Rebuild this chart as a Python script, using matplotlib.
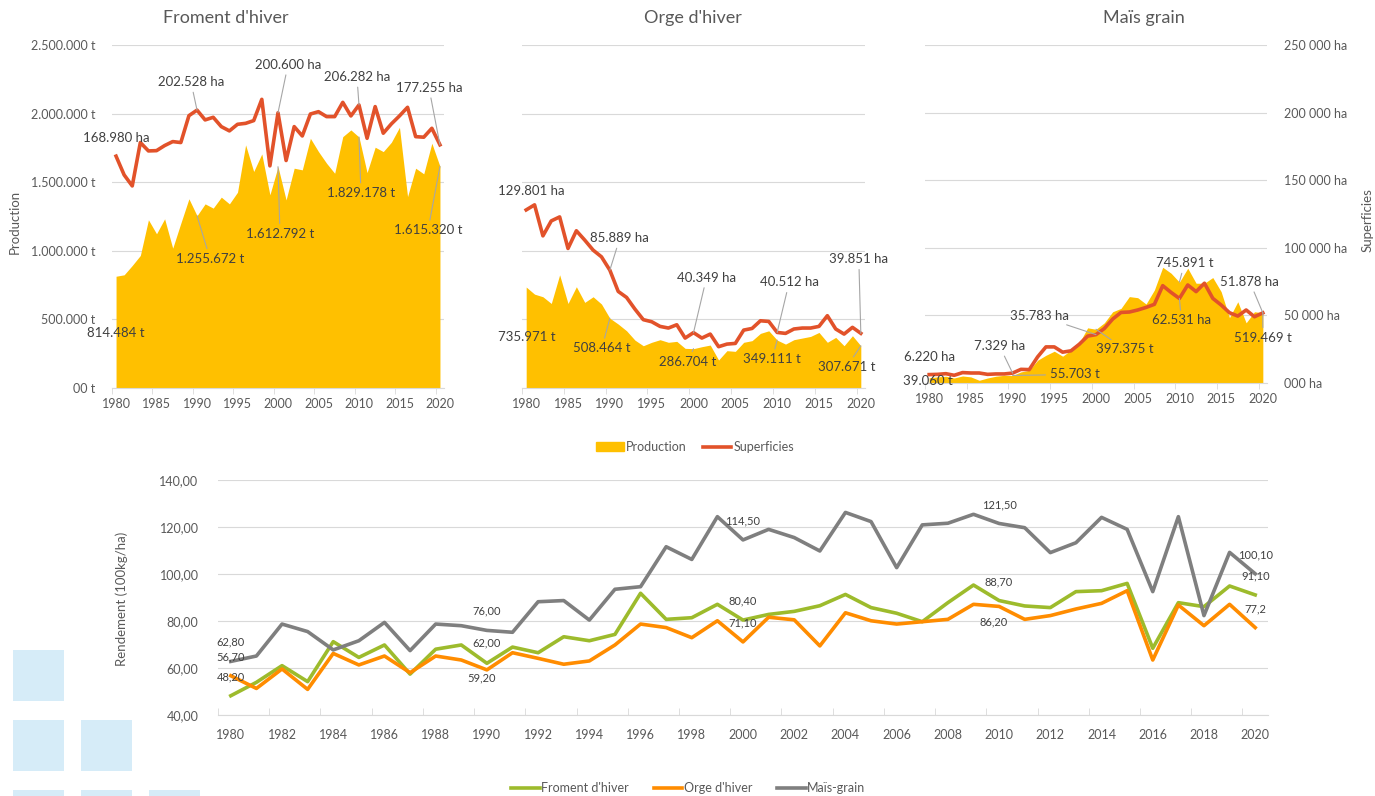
import matplotlib.pyplot as plt
from matplotlib.lines import Line2D
from matplotlib.patches import Patch, Rectangle
from matplotlib.ticker import FuncFormatter, MultipleLocator

plt.rcParams['font.family'] = ['Lato', 'DejaVu Sans']

# ---- data ----
years = list(range(1980, 2021))

froment_prod = [814484, 825000, 893000, 966000, 1226000, 1124000, 1233000, 1019000, 1201000, 1379000,
                1255672, 1342000, 1311000, 1391000, 1342000, 1427000, 1772000, 1578000, 1706000, 1408000,
                1612792, 1371000, 1602000, 1590000, 1820000, 1723000, 1638000, 1565000, 1832000, 1881000,
                1829178, 1570000, 1755000, 1723000, 1791000, 1900000, 1395000, 1602000, 1561000, 1784000,
                1615320]
froment_sup = [168980, 155300, 147300, 178900, 172800, 173000, 176700, 179600, 178900, 198500,
               202528, 195400, 197300, 190500, 187400, 192200, 192900, 194900, 210400, 161900,
               200600, 165800, 190500, 183700, 199700, 201400, 197800, 197800, 208200, 198300,
               206282, 182000, 205100, 185700, 192500, 198300, 204600, 183200, 182800, 189300,
               177255]

orge_prod = [735971, 684000, 665000, 616000, 825000, 616000, 738000, 624000, 665000, 612000,
             508464, 466000, 417000, 349000, 308000, 333000, 352000, 333000, 340000, 289000,
             286704, 301000, 313000, 204000, 272000, 267000, 333000, 345000, 398000, 417000,
             349111, 320000, 352000, 364000, 376000, 405000, 333000, 369000, 308000, 381000,
             307671]
orge_sup = [129801, 133500, 110900, 121800, 124700, 101700, 114600, 107800, 100500, 95600,
            85889, 70400, 66000, 57500, 49800, 48300, 44900, 43700, 46100, 36400,
            40349, 36400, 39300, 30100, 32000, 32500, 42200, 43400, 49000, 48500,
            40512, 39800, 43000, 43700, 43700, 44900, 52700, 43000, 39300, 44200,
            39851]

mais_prod = [39060, 45000, 50000, 37000, 52000, 45000, 20000, 37000, 50000, 57000,
             55703, 82000, 94000, 168000, 205000, 235000, 198000, 243000, 297000, 408000,
             397375, 445000, 527000, 552000, 639000, 631000, 584000, 688000, 856000, 812000,
             745891, 849000, 738000, 738000, 780000, 676000, 483000, 601000, 445000, 527000,
             519469]
mais_sup = [6220, 6400, 6900, 5700, 7700, 7400, 7400, 6400, 6700, 6700,
            7329, 10100, 9900, 19300, 26700, 26700, 22800, 23800, 28700, 34700,
            35783, 40300, 47300, 52200, 52500, 54000, 55900, 58200, 72000, 67000,
            62531, 72500, 67600, 73800, 62600, 57700, 52000, 49500, 54000, 49000,
            51878]

# rendement (100kg/ha)
rdt_froment = [48.2, 53.9, 61.0, 54.2, 71.2, 64.5, 69.8, 57.4, 68.0, 69.8,
               62.0, 68.9, 66.5, 73.3, 71.6, 74.3, 91.8, 80.7, 81.4, 87.1,
               80.4, 82.8, 84.1, 86.5, 91.3, 85.7, 83.3, 79.7, 87.8, 95.3,
               88.7, 86.4, 85.7, 92.5, 92.9, 96.0, 68.4, 87.8, 86.1, 94.9,
               91.1]
rdt_orge = [56.7, 51.3, 59.6, 50.9, 66.2, 61.3, 65.1, 58.0, 65.1, 63.4,
            59.2, 66.5, 64.1, 61.6, 63.0, 69.8, 78.7, 77.2, 72.9, 80.1,
            71.1, 81.6, 80.5, 69.4, 83.5, 80.1, 78.7, 79.7, 80.7, 87.1,
            86.2, 80.7, 82.3, 85.1, 87.5, 92.9, 63.4, 86.8, 78.0, 87.1,
            77.2]
rdt_mais = [62.8, 65.1, 78.7, 75.5, 67.7, 71.6, 79.4, 67.4, 78.7, 78.0,
            76.0, 75.2, 88.2, 88.7, 80.4, 93.5, 94.6, 111.6, 106.2, 124.4,
            114.5, 119.0, 115.5, 109.8, 126.2, 122.3, 102.7, 120.9, 121.6, 125.4,
            121.5, 119.7, 109.1, 113.3, 124.1, 119.0, 92.5, 124.4, 82.3, 109.2,
            100.1]

label_years = [1980, 1990, 2000, 2010, 2020]
lab_froment = ["48,20", "62,00", "80,40", "88,70", "91,10"]
lab_orge = ["56,70", "59,20", "71,10", "86,20", "77,2"]
lab_mais = ["62,80", "76,00", "114,50", "121,50", "100,10"]

# ---- style ----
YEL = '#FFC000'
RED = '#E2522A'
GRN = '#9DBB2C'
ORA = '#FF8C00'
GRY = '#7F7F7F'
TXT = '#595959'
LAB = '#404040'
GRID = '#D9D9D9'

W, H = 1375, 796
fig = plt.figure(figsize=(W / 100, H / 100), dpi=100)


def box(x0, y0, x1, y1):
    return [x0 / W, 1 - y1 / H, (x1 - x0) / W, (y1 - y0) / H]


def fmt_t(v, pos=None):
    if v == 0:
        return "00 t"
    return f"{int(v):,}".replace(",", ".") + " t"


def fmt_ha_axis(v, pos=None):
    if v == 0:
        return "000 ha"
    return f"{int(v):,}".replace(",", " ") + " ha"


def fmt_ha(v):
    return f"{int(v):,}".replace(",", ".") + " ha"


# decorative squares
for (x, y, w, h) in [(13, 650, 51, 51), (13, 720, 51, 51), (81, 720, 51, 51),
                     (13, 790, 51, 51), (81, 790, 51, 51), (149, 790, 51, 51)]:
    fig.patches.append(Rectangle((x / W, 1 - (y + h) / H), w / W, h / H,
                                 transform=fig.transFigure, color='#D6ECF8', lw=0))

# label offsets in pixels (dx, dy, leader line) for years 1980..2020
panels = [
    ("Froment d'hiver", froment_prod, froment_sup, (112, 45, 444, 388), 226,
     [(0, 18, False), (-6, 28, True), (10, 48, True), (-2, 28, True), (-11, 57, True)],
     [(0, -57, False), (13, -43, True), (2, -67, True), (2, -56, True), (-12, -64, True)]),
    ("Orge d'hiver", orge_prod, orge_sup, (522, 45, 865, 388), 693,
     [(5, 19, False), (10, 32, True), (13, 55, True), (12, 50, True), (-2, 74, True)],
     [(1, -50, False), (-8, -30, True), (-6, -13, True), (-5, -19, True), (-14, -21, True)]),
    ("Maïs grain", mais_prod, mais_sup, (925, 45, 1267, 383), 1144,
     [(0, 18, False), (-13, 27, True), (-57, 19, True), (2, -22, True), (-13, 31, True)],
     [(-1, -3, False), (62, 1, True), (29, -20, True), (5, 19, True), (0, -25, True)]),
]

for i, (title, prod, sup, b, tx, off_sup, off_prod) in enumerate(panels):
    ax = fig.add_axes(box(*b))
    ax.fill_between(years, prod, color=YEL, lw=0)
    ax.set_xlim(1979.5, 2020.5)
    ax.set_ylim(0, 2500000)
    ax.yaxis.set_major_locator(MultipleLocator(500000))
    ax.yaxis.set_major_formatter(FuncFormatter(fmt_t))
    ax.grid(axis='y', color=GRID, lw=0.8)
    ax.set_axisbelow(True)
    for s in ['top', 'left', 'right']:
        ax.spines[s].set_visible(False)
    ax.spines['bottom'].set_color(GRID)
    ax.set_xticks(range(1980, 2021, 5))
    ax.set_xticks([1979.5 + 5 * k for k in range(9)], minor=True)
    ax.tick_params(axis='x', which='major', length=0, labelsize=9, labelcolor=TXT, pad=7)
    ax.tick_params(axis='x', which='minor', length=4, color=GRID)
    ax.tick_params(axis='y', length=0, labelsize=9, labelcolor=TXT, pad=12, labelleft=(i == 0))

    ax2 = ax.twinx()
    ax2.plot(years, sup, color=RED, lw=2.6)
    ax2.set_ylim(0, 250000)
    ax2.yaxis.set_major_locator(MultipleLocator(50000))
    ax2.yaxis.set_major_formatter(FuncFormatter(fmt_ha_axis))
    for s in ax2.spines.values():
        s.set_visible(False)
    ax2.tick_params(axis='y', length=0, labelsize=9, labelcolor=TXT, pad=12, labelright=(i == 2))

    for yr, (dx, dy, line) in zip(label_years, off_sup):
        v = sup[years.index(yr)]
        ax2.annotate(fmt_ha(v), xy=(yr, v), xytext=(dx, dy), textcoords='offset pixels',
                     ha='center', va='center', fontsize=9.5, color=LAB, annotation_clip=False,
                     arrowprops=dict(arrowstyle='-', color='#A6A6A6', lw=0.8, shrinkA=1, shrinkB=0) if line else None)
    for yr, (dx, dy, line) in zip(label_years, off_prod):
        v = prod[years.index(yr)]
        ax2.annotate(fmt_t(v), xy=(yr, v / 10), xytext=(dx, dy), textcoords='offset pixels',
                     ha='center', va='center', fontsize=9.5, color=LAB, annotation_clip=False,
                     arrowprops=dict(arrowstyle='-', color='#A6A6A6', lw=0.8, shrinkA=1, shrinkB=0) if line else None)

    fig.text(tx / W, 1 - 18 / H, title, ha='center', va='center', fontsize=13, color=TXT)

fig.text(15 / W, 1 - 222 / H, "Production", rotation=90, ha='center', va='center', fontsize=9.5, color=TXT)
fig.text(1368 / W, 1 - 220 / H, "Superficies", rotation=90, ha='center', va='center', fontsize=9.5, color=TXT)

fig.legend(handles=[Patch(color=YEL, label='Production'),
                    Line2D([], [], color=RED, lw=2.6, label='Superficies')],
           loc='center', bbox_to_anchor=(695 / W, 1 - 447 / H), ncol=2, frameon=False,
           fontsize=9, labelcolor=TXT, handlelength=2.2, handletextpad=0.2, columnspacing=1.3)

# ---- rendement chart ----
ax = fig.add_axes(box(218, 480, 1268, 715))
series = [(rdt_froment, GRN, "Froment d'hiver", lab_froment, [19, 20, 19, 19, 19]),
          (rdt_orge, ORA, "Orge d'hiver", lab_orge, [19, -8, 19, -15, 19]),
          (rdt_mais, GRY, "Maïs-grain", lab_mais, [19, 19, 19, 19, 19])]
for vals, col, name, labs, dys in series:
    ax.plot(years, vals, color=col, lw=2.6, label=name)
    for yr, lab, dy in zip(label_years, labs, dys):
        v = vals[years.index(yr)]
        dx = -5 if dy < 0 else 0
        ax.annotate(lab, xy=(yr, v), xytext=(dx, dy), textcoords='offset pixels',
                    ha='center', va='center', fontsize=8, color=LAB, annotation_clip=False)

ax.set_xlim(1979.5, 2020.5)
ax.set_ylim(40, 140)
ax.yaxis.set_major_locator(MultipleLocator(20))
ax.yaxis.set_major_formatter(FuncFormatter(lambda v, p: f"{v:.2f}".replace('.', ',')))
ax.grid(axis='y', color=GRID, lw=0.8)
ax.set_axisbelow(True)
for s in ['top', 'left', 'right']:
    ax.spines[s].set_visible(False)
ax.spines['bottom'].set_color(GRID)
ax.set_xticks(range(1980, 2021, 2))
ax.set_xticks([1979.5 + 2 * k for k in range(21)], minor=True)
ax.tick_params(axis='x', which='major', length=0, labelsize=9, labelcolor=TXT, pad=10)
ax.tick_params(axis='x', which='minor', length=5, direction='in', color=GRID)
ax.tick_params(axis='y', length=0, labelsize=9, labelcolor=TXT, pad=14)
fig.text(122 / W, 1 - 599 / H, "Rendement (100kg/ha)", rotation=90, ha='center', va='center',
         fontsize=9.5, color=TXT)

fig.legend(handles=[Line2D([], [], color=c, lw=2.6, label=n) for _, c, n, _, _ in series],
           loc='center', bbox_to_anchor=(688 / W, 1 - 788 / H), ncol=3, frameon=False,
           fontsize=9, labelcolor=TXT, handlelength=2.3, handletextpad=0.1, columnspacing=2.0)

fig.savefig('out.png', dpi=100)
